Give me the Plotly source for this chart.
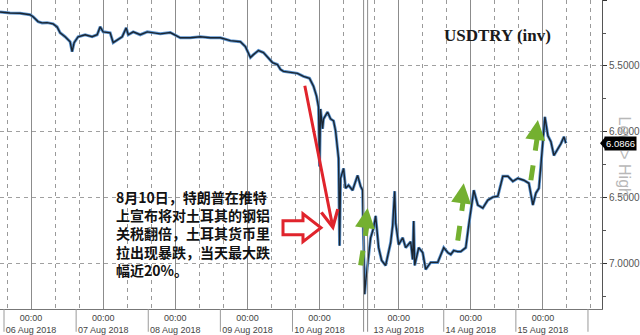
import plotly.graph_objects as go
import datetime as dt

# ---------------- data ----------------
times = [
    "2018-08-05 13:40", "2018-08-05 17:00", "2018-08-05 20:20", "2018-08-05 23:40",
    "2018-08-06 00:40", "2018-08-06 02:20", "2018-08-06 03:40", "2018-08-06 05:20",
    "2018-08-06 07:20", "2018-08-06 08:40", "2018-08-06 09:40", "2018-08-06 11:20",
    "2018-08-06 13:00", "2018-08-06 13:40", "2018-08-06 14:20", "2018-08-06 15:40",
    "2018-08-06 18:00", "2018-08-06 20:20", "2018-08-06 22:00", "2018-08-06 23:00",
    "2018-08-07 00:00", "2018-08-07 02:20", "2018-08-07 03:20", "2018-08-07 04:40",
    "2018-08-07 06:20", "2018-08-07 07:40", "2018-08-07 08:20", "2018-08-07 10:00",
    "2018-08-07 12:20", "2018-08-07 14:40", "2018-08-07 16:40", "2018-08-07 19:00",
    "2018-08-07 22:20", "2018-08-08 01:40", "2018-08-08 05:00", "2018-08-08 08:20",
    "2018-08-08 11:40", "2018-08-08 15:00", "2018-08-08 18:20", "2018-08-08 21:40",
    "2018-08-08 23:20", "2018-08-09 01:00", "2018-08-09 02:00", "2018-08-09 03:40",
    "2018-08-09 05:20", "2018-08-09 06:40", "2018-08-09 08:20", "2018-08-09 10:00",
    "2018-08-09 11:00", "2018-08-09 12:00", "2018-08-09 14:20", "2018-08-09 16:40",
    "2018-08-09 18:40", "2018-08-09 20:40", "2018-08-09 22:00", "2018-08-09 23:00",
    "2018-08-09 23:40", "2018-08-10 00:00", "2018-08-10 00:20", "2018-08-10 01:00",
    "2018-08-10 01:20", "2018-08-10 02:40", "2018-08-10 03:40", "2018-08-10 04:40",
    "2018-08-10 05:20", "2018-08-10 06:00", "2018-08-10 06:20", "2018-08-10 06:40",
    "2018-08-10 07:00", "2018-08-10 08:00", "2018-08-10 08:40", "2018-08-10 09:40",
    "2018-08-10 11:00", "2018-08-10 12:40", "2018-08-10 13:40", "2018-08-10 14:20",
    "2018-08-12 12:40", "2018-08-12 13:00", "2018-08-12 14:00", "2018-08-12 14:40",
    "2018-08-12 15:40", "2018-08-12 16:20", "2018-08-12 17:20", "2018-08-12 18:20",
    "2018-08-12 19:40", "2018-08-12 21:20", "2018-08-12 22:00", "2018-08-12 22:40",
    "2018-08-12 23:00", "2018-08-13 00:00", "2018-08-13 01:20", "2018-08-13 02:20",
    "2018-08-13 04:00", "2018-08-13 04:40", "2018-08-13 05:00", "2018-08-13 05:20",
    "2018-08-13 06:40", "2018-08-13 08:00", "2018-08-13 09:00", "2018-08-13 10:40",
    "2018-08-13 13:00", "2018-08-13 15:00", "2018-08-13 16:20", "2018-08-13 17:20",
    "2018-08-13 18:20", "2018-08-13 19:40", "2018-08-13 20:40", "2018-08-13 22:20",
    "2018-08-13 23:20", "2018-08-14 00:20", "2018-08-14 01:00", "2018-08-14 02:20",
    "2018-08-14 04:00", "2018-08-14 05:40", "2018-08-14 07:20", "2018-08-14 09:00",
    "2018-08-14 10:40", "2018-08-14 12:20", "2018-08-14 14:00", "2018-08-14 15:40",
    "2018-08-14 17:40", "2018-08-14 19:20", "2018-08-14 20:40", "2018-08-14 21:40",
    "2018-08-14 22:40", "2018-08-14 23:20", "2018-08-15 00:00", "2018-08-15 00:40",
    "2018-08-15 01:40", "2018-08-15 02:40", "2018-08-15 03:40", "2018-08-15 05:00",
    "2018-08-15 06:00", "2018-08-15 07:00", "2018-08-15 07:40",
]
usdtry = [
    5.090, 5.098, 5.100, 5.111,
    5.126, 5.163, 5.173, 5.171,
    5.180, 5.203, 5.248, 5.278,
    5.316, 5.391, 5.323, 5.278,
    5.263, 5.278, 5.263, 5.203,
    5.241, 5.248, 5.323, 5.301,
    5.278, 5.211, 5.263, 5.241,
    5.263, 5.241, 5.248, 5.256,
    5.246, 5.286, 5.286, 5.278,
    5.286, 5.286, 5.308, 5.316,
    5.353, 5.436, 5.414, 5.383,
    5.398, 5.429, 5.474, 5.489,
    5.526, 5.541, 5.549, 5.556,
    5.579, 5.594, 5.654, 5.729,
    5.812, 6.263, 5.827, 5.977,
    5.902, 5.850, 5.902, 5.917,
    5.992, 6.105, 6.203, 6.865,
    6.353, 6.278, 6.429, 6.406,
    6.444, 6.331, 6.414, 6.444,
    7.233, 7.143, 6.917, 6.805,
    6.729, 6.639, 6.880, 6.977,
    7.015, 6.842, 6.714, 6.451,
    6.692, 6.857, 6.805, 6.880,
    6.835, 6.970, 6.677, 7.015,
    6.880, 6.917, 7.045, 6.992,
    6.992, 6.880, 6.917, 6.932,
    6.902, 6.910, 6.910, 6.880,
    6.707, 6.526, 6.444, 6.556,
    6.579, 6.519, 6.496, 6.489,
    6.338, 6.338, 6.376, 6.353,
    6.368, 6.391, 6.556, 6.466,
    6.429, 6.256, 6.053, 5.887,
    6.030, 6.075, 6.180, 6.128,
    6.090, 6.038, 6.0866,
]
last_value = 6.0866

day_ticks = ["2018-08-06", "2018-08-07", "2018-08-08", "2018-08-09",
             "2018-08-10", "2018-08-13", "2018-08-14", "2018-08-15"]
day_labels = ["06 Aug 2018", "07 Aug 2018", "08 Aug 2018", "09 Aug 2018",
              "10 Aug 2018", "13 Aug 2018", "14 Aug 2018", "15 Aug 2018"]
y_ticks = [5.0, 5.5, 6.0, 6.5, 7.0]
y_minor = [5.25, 5.75, 6.25, 6.75, 7.25]

weekend_break = ["2018-08-10 15:00", "2018-08-12 12:40"]
break_lines = ["2018-08-10 14:40", "2018-08-12 13:40"]

title_text = "USDTRY (inv)"
note_lines = ["8月10日，特朗普在推特", "上宣布将对土耳其的钢铝", "关税翻倍，土耳其货币里",
              "拉出现暴跌，当天最大跌", "幅近20%。"]

red_arrow = (("2018-08-09 19:00", 5.639), ("2018-08-10 04:40", 6.752))
green_arrows = [
    (("2018-08-10 13:40", 7.015), ("2018-08-12 13:40", 6.579)),
    (("2018-08-13 19:40", 6.827), ("2018-08-13 21:40", 6.391)),
    (("2018-08-14 20:00", 6.368), ("2018-08-14 22:20", 5.910)),
]

# ---------------- figure ----------------
W, H = 640, 335
ML, MR, MT, MB = 0, 38, 0, 23
PW, PH = W - ML - MR, H - MT - MB
PX_PER_UNIT = 133.0
Y_BOTTOM, Y_TOP = 5 + PH / PX_PER_UNIT, 4.999
X_RANGE = ["2018-08-05 13:40", "2018-08-15 19:40"]
GRID_DASH = "4px,4px"


def px(x):
    return x / PW


def py(y):
    return 1 - y / PH


# dotted verticals every 8 hours (not at midnight)
minor_vals = []
t = dt.datetime(2018, 8, 5, 16, 0)
while t < dt.datetime(2018, 8, 15, 20, 0):
    if t.hour != 0:
        minor_vals.append(t.strftime("%Y-%m-%d %H:%M"))
    t += dt.timedelta(hours=8)

fig = go.Figure()
# invisible carrier trace so the overlaid grid axis (x2) is drawn
fig.add_trace(go.Scatter(x=times, y=usdtry, mode="lines", xaxis="x2",
                         line=dict(color="rgba(0,0,0,0)", width=0),
                         hoverinfo="skip", showlegend=False))
fig.add_trace(go.Scatter(x=times, y=usdtry, mode="lines",
                         line=dict(color="#5a93cf", width=3.0),
                         hoverinfo="skip", showlegend=False))
fig.add_trace(go.Scatter(x=times, y=usdtry, mode="lines",
                         line=dict(color="#1b2530", width=1.4),
                         showlegend=False))

shapes = []
for b in break_lines:
    shapes.append(dict(type="line", xref="x", yref="paper", x0=b, x1=b,
                       y0=-MB / PH, y1=1, line=dict(color="#8c8c8c", width=1)))
for d in ["2018-08-05", "2018-08-06", "2018-08-07", "2018-08-08", "2018-08-09",
          "2018-08-13", "2018-08-14", "2018-08-15"]:
    s = d + " 15:00"
    shapes.append(dict(type="line", xref="x", yref="paper", x0=s, x1=s,
                       y0=-MB / PH, y1=0, line=dict(color="#9a9a9a", width=1)))

green = "#74b030"
for (tail, tip) in green_arrows:
    shapes.append(dict(type="line", xref="x", yref="y", x0=tail[0], y0=tail[1],
                       x1=tip[0], y1=tip[1] + 0.1,
                       line=dict(color=green, width=5, dash="dash")))

bx = [283, 303, 303, 321, 303, 303, 283]
by = [223, 223, 216, 230, 244, 237, 237]
path = "M " + " L ".join(f"{px(a):.4f},{py(b):.4f}" for a, b in zip(bx, by)) + " Z"
shapes.append(dict(type="path", xref="paper", yref="paper", path=path,
                   line=dict(color="#e0242c", width=3), fillcolor="white"))

tag_y = py((last_value - 5.0) * PX_PER_UNIT)
shapes.append(dict(type="path", xref="paper", yref="paper",
                   path=f"M {px(600):.4f},{tag_y:.4f} L {px(605):.4f},{tag_y + 6/PH:.4f} "
                        f"L {px(605):.4f},{tag_y - 6/PH:.4f} Z",
                   fillcolor="black", line=dict(width=0)))

annotations = []
annotations.append(dict(text="Low > High", textangle=90, xref="paper", yref="paper",
                        x=px(625), y=py(158), xanchor="center", yanchor="middle",
                        showarrow=False,
                        font=dict(size=16, color="#b8b8b8", family="Liberation Sans")))
annotations.append(dict(text=f"{last_value:.4f}", xref="paper", yref="y",
                        x=px(604), y=last_value, xanchor="left", yanchor="middle",
                        showarrow=False, bgcolor="black", borderpad=1,
                        font=dict(size=9.5, color="white", family="Liberation Sans")))
annotations.append(dict(text=f"<b>{title_text}</b>", xref="paper", yref="paper",
                        x=px(497), y=py(36), xanchor="center", yanchor="middle",
                        showarrow=False,
                        font=dict(size=17, color="#1a1a1a", family="Liberation Serif")))
annotations.append(dict(text="<br>".join(note_lines), xref="paper", yref="paper",
                        x=px(114), y=py(187), xanchor="left", yanchor="top",
                        align="left", showarrow=False,
                        font=dict(size=14, color="#111111", family="Noto Sans CJK SC",
                                  weight="bold")))
annotations.append(dict(x=red_arrow[1][0], y=red_arrow[1][1], ax=red_arrow[0][0],
                        ay=red_arrow[0][1], axref="x", ayref="y", xref="x", yref="y",
                        showarrow=True, arrowhead=5, arrowsize=1.1, arrowwidth=3,
                        arrowcolor="#e0242c", text=""))
for (tail, tip) in green_arrows:
    annotations.append(dict(x=tip[0], y=tip[1], ax=-2, ay=15, xref="x", yref="y",
                            showarrow=True, arrowhead=2, arrowsize=1.0, arrowwidth=4,
                            arrowcolor=green, text=""))

fig.update_layout(
    width=W, height=H, margin=dict(l=ML, r=MR, t=MT, b=MB),
    paper_bgcolor="white", plot_bgcolor="white",
    shapes=shapes, annotations=annotations, showlegend=False,
    xaxis=dict(
        type="date",
        range=X_RANGE,
        rangebreaks=[dict(bounds=weekend_break)],
        tickvals=day_ticks,
        ticktext=[f"00:00<br>{l}" for l in day_labels],
        tickfont=dict(size=9, color="#444", family="Liberation Sans"),
        showgrid=True, gridcolor="#8c8c8c", gridwidth=1,
        ticks="", showline=True, linecolor="#777", linewidth=1,
        zeroline=False,
    ),
    xaxis2=dict(
        type="date", overlaying="x", side="bottom", anchor="y",
        range=X_RANGE,
        rangebreaks=[dict(bounds=weekend_break)],
        tickvals=minor_vals, showticklabels=False, ticks="",
        showgrid=True, gridcolor="#9a9a9a", gridwidth=1, griddash=GRID_DASH,
        showline=False, zeroline=False,
    ),
    yaxis=dict(
        side="right", range=[Y_BOTTOM, Y_TOP],
        tickvals=y_ticks, tickformat=".4f",
        tickfont=dict(size=10, color="#555", family="Liberation Sans"),
        ticks="outside", ticklen=4, tickcolor="#333",
        showline=True, linecolor="#555", linewidth=1,
        showgrid=True, gridcolor="#a0a0a0", gridwidth=1, griddash=GRID_DASH,
        zeroline=False,
        minor=dict(tickvals=y_minor, ticks="outside", ticklen=3, tickcolor="#555",
                   showgrid=False),
    ),
)

fig.write_html("out.html")
